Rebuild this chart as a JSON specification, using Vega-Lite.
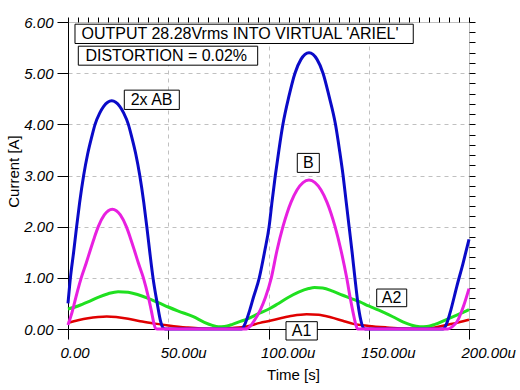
{
  "$schema": "https://vega.github.io/schema/vega-lite/v6.json",
  "width": 401,
  "height": 307,
  "autosize": "none",
  "padding": {"left": 68, "top": 22, "right": 51, "bottom": 61},
  "background": "white",
  "config": {
    "view": {"stroke": "#c0c0c0", "strokeWidth": 1},
    "font": "Liberation Sans"
  },
  "datasets": {
    "currents": [
      {"series": "AB", "t": 0, "current": 0.5},
      {"series": "AB", "t": 1.2, "current": 1.0},
      {"series": "AB", "t": 2.8, "current": 1.5},
      {"series": "AB", "t": 4.3, "current": 2.0},
      {"series": "AB", "t": 5.8, "current": 2.47},
      {"series": "AB", "t": 7.8, "current": 3.0},
      {"series": "AB", "t": 9.8, "current": 3.42},
      {"series": "AB", "t": 11.8, "current": 3.75},
      {"series": "AB", "t": 13.5, "current": 4.0},
      {"series": "AB", "t": 15.8, "current": 4.22},
      {"series": "AB", "t": 17.8, "current": 4.353},
      {"series": "AB", "t": 19.8, "current": 4.433},
      {"series": "AB", "t": 21.8, "current": 4.46},
      {"series": "AB", "t": 23.8, "current": 4.433},
      {"series": "AB", "t": 25.8, "current": 4.353},
      {"series": "AB", "t": 27.8, "current": 4.22},
      {"series": "AB", "t": 30.1, "current": 4.0},
      {"series": "AB", "t": 31.8, "current": 3.75},
      {"series": "AB", "t": 33.8, "current": 3.42},
      {"series": "AB", "t": 35.8, "current": 3.0},
      {"series": "AB", "t": 37.8, "current": 2.47},
      {"series": "AB", "t": 39.3, "current": 2.0},
      {"series": "AB", "t": 40.8, "current": 1.5},
      {"series": "AB", "t": 42.4, "current": 1.0},
      {"series": "AB", "t": 44.5, "current": 0.5},
      {"series": "AB", "t": 46, "current": 0.18},
      {"series": "AB", "t": 47.5, "current": 0.02},
      {"series": "AB", "t": 48.5, "current": 0},
      {"series": "AB", "t": 86.5, "current": 0},
      {"series": "AB", "t": 88.5, "current": 0.12},
      {"series": "AB", "t": 90.5, "current": 0.35},
      {"series": "AB", "t": 92.5, "current": 0.62},
      {"series": "AB", "t": 95.4, "current": 1.0},
      {"series": "AB", "t": 98.0, "current": 1.5},
      {"series": "AB", "t": 100.3, "current": 2.0},
      {"series": "AB", "t": 101.8, "current": 2.5},
      {"series": "AB", "t": 103.4, "current": 3.0},
      {"series": "AB", "t": 105.2, "current": 3.5},
      {"series": "AB", "t": 107.2, "current": 4.0},
      {"series": "AB", "t": 110.2, "current": 4.55},
      {"series": "AB", "t": 113.2, "current": 5.0},
      {"series": "AB", "t": 116.2, "current": 5.27},
      {"series": "AB", "t": 118.2, "current": 5.367},
      {"series": "AB", "t": 120.2, "current": 5.4},
      {"series": "AB", "t": 122.2, "current": 5.367},
      {"series": "AB", "t": 124.2, "current": 5.27},
      {"series": "AB", "t": 127.2, "current": 5.0},
      {"series": "AB", "t": 130.2, "current": 4.55},
      {"series": "AB", "t": 133.4, "current": 4.0},
      {"series": "AB", "t": 135.4, "current": 3.5},
      {"series": "AB", "t": 137.2, "current": 3.0},
      {"series": "AB", "t": 138.7, "current": 2.5},
      {"series": "AB", "t": 140.2, "current": 2.0},
      {"series": "AB", "t": 141.7, "current": 1.5},
      {"series": "AB", "t": 143.1, "current": 1.0},
      {"series": "AB", "t": 144.6, "current": 0.5},
      {"series": "AB", "t": 146, "current": 0.18},
      {"series": "AB", "t": 147.3, "current": 0.02},
      {"series": "AB", "t": 148.3, "current": 0},
      {"series": "AB", "t": 187, "current": 0},
      {"series": "AB", "t": 189, "current": 0.12},
      {"series": "AB", "t": 191, "current": 0.38},
      {"series": "AB", "t": 193.9, "current": 0.83},
      {"series": "AB", "t": 197, "current": 1.28},
      {"series": "AB", "t": 200, "current": 1.75},

      {"series": "B", "t": 0, "current": 0.08},
      {"series": "B", "t": 1.6, "current": 0.27},
      {"series": "B", "t": 3.3, "current": 0.52},
      {"series": "B", "t": 4.8, "current": 0.75},
      {"series": "B", "t": 6.6, "current": 1.0},
      {"series": "B", "t": 9.1, "current": 1.29},
      {"series": "B", "t": 11.1, "current": 1.54},
      {"series": "B", "t": 13.1, "current": 1.78},
      {"series": "B", "t": 15.1, "current": 2.0},
      {"series": "B", "t": 18.1, "current": 2.229},
      {"series": "B", "t": 20.1, "current": 2.312},
      {"series": "B", "t": 22.1, "current": 2.34},
      {"series": "B", "t": 24.1, "current": 2.312},
      {"series": "B", "t": 26.1, "current": 2.229},
      {"series": "B", "t": 29.1, "current": 2.0},
      {"series": "B", "t": 31.1, "current": 1.78},
      {"series": "B", "t": 33.1, "current": 1.54},
      {"series": "B", "t": 35.1, "current": 1.29},
      {"series": "B", "t": 37.6, "current": 1.0},
      {"series": "B", "t": 40.1, "current": 0.62},
      {"series": "B", "t": 41.6, "current": 0.35},
      {"series": "B", "t": 42.9, "current": 0.1},
      {"series": "B", "t": 43.7, "current": 0.01},
      {"series": "B", "t": 44.5, "current": 0},
      {"series": "B", "t": 89, "current": 0},
      {"series": "B", "t": 91, "current": 0.06},
      {"series": "B", "t": 93, "current": 0.17},
      {"series": "B", "t": 96, "current": 0.38},
      {"series": "B", "t": 98.5, "current": 0.62},
      {"series": "B", "t": 101.4, "current": 1.0},
      {"series": "B", "t": 104.2, "current": 1.53},
      {"series": "B", "t": 107.2, "current": 2.0},
      {"series": "B", "t": 109.2, "current": 2.259},
      {"series": "B", "t": 111.2, "current": 2.474},
      {"series": "B", "t": 114.2, "current": 2.716},
      {"series": "B", "t": 117.2, "current": 2.862},
      {"series": "B", "t": 120.2, "current": 2.91},
      {"series": "B", "t": 123.2, "current": 2.862},
      {"series": "B", "t": 126.2, "current": 2.716},
      {"series": "B", "t": 129.2, "current": 2.474},
      {"series": "B", "t": 131.2, "current": 2.259},
      {"series": "B", "t": 133.2, "current": 2.0},
      {"series": "B", "t": 136.2, "current": 1.53},
      {"series": "B", "t": 139, "current": 1.0},
      {"series": "B", "t": 140.8, "current": 0.6},
      {"series": "B", "t": 142.3, "current": 0.3},
      {"series": "B", "t": 143.6, "current": 0.08},
      {"series": "B", "t": 144.5, "current": 0},
      {"series": "B", "t": 189.5, "current": 0},
      {"series": "B", "t": 191.5, "current": 0.04},
      {"series": "B", "t": 194, "current": 0.14},
      {"series": "B", "t": 197.2, "current": 0.44},
      {"series": "B", "t": 200, "current": 0.79},

      {"series": "A2", "t": 0, "current": 0.39},
      {"series": "A2", "t": 5, "current": 0.45},
      {"series": "A2", "t": 10, "current": 0.53},
      {"series": "A2", "t": 15, "current": 0.62},
      {"series": "A2", "t": 20, "current": 0.69},
      {"series": "A2", "t": 25, "current": 0.73},
      {"series": "A2", "t": 30, "current": 0.72},
      {"series": "A2", "t": 35, "current": 0.67},
      {"series": "A2", "t": 40, "current": 0.6},
      {"series": "A2", "t": 46, "current": 0.5},
      {"series": "A2", "t": 50, "current": 0.43},
      {"series": "A2", "t": 55, "current": 0.35},
      {"series": "A2", "t": 62.5, "current": 0.24},
      {"series": "A2", "t": 68, "current": 0.13},
      {"series": "A2", "t": 72, "current": 0.07},
      {"series": "A2", "t": 75, "current": 0.045},
      {"series": "A2", "t": 78, "current": 0.05},
      {"series": "A2", "t": 82, "current": 0.09},
      {"series": "A2", "t": 86, "current": 0.15},
      {"series": "A2", "t": 89, "current": 0.19},
      {"series": "A2", "t": 95, "current": 0.3},
      {"series": "A2", "t": 100.7, "current": 0.4},
      {"series": "A2", "t": 105, "current": 0.5},
      {"series": "A2", "t": 110, "current": 0.62},
      {"series": "A2", "t": 115, "current": 0.72},
      {"series": "A2", "t": 120, "current": 0.79},
      {"series": "A2", "t": 123, "current": 0.81},
      {"series": "A2", "t": 127, "current": 0.8},
      {"series": "A2", "t": 132, "current": 0.74},
      {"series": "A2", "t": 137, "current": 0.66},
      {"series": "A2", "t": 141, "current": 0.6},
      {"series": "A2", "t": 145.6, "current": 0.53},
      {"series": "A2", "t": 150, "current": 0.45},
      {"series": "A2", "t": 155, "current": 0.37},
      {"series": "A2", "t": 162, "current": 0.24},
      {"series": "A2", "t": 167, "current": 0.14},
      {"series": "A2", "t": 171, "current": 0.08},
      {"series": "A2", "t": 175.5, "current": 0.045},
      {"series": "A2", "t": 179, "current": 0.05},
      {"series": "A2", "t": 183, "current": 0.09},
      {"series": "A2", "t": 189, "current": 0.19},
      {"series": "A2", "t": 195, "current": 0.29},
      {"series": "A2", "t": 200, "current": 0.38},

      {"series": "A1", "t": 0, "current": 0.12},
      {"series": "A1", "t": 5, "current": 0.17},
      {"series": "A1", "t": 10, "current": 0.21},
      {"series": "A1", "t": 15, "current": 0.235},
      {"series": "A1", "t": 19.3, "current": 0.245},
      {"series": "A1", "t": 24, "current": 0.235},
      {"series": "A1", "t": 30, "current": 0.2},
      {"series": "A1", "t": 36, "current": 0.15},
      {"series": "A1", "t": 42.5, "current": 0.11},
      {"series": "A1", "t": 50, "current": 0.07},
      {"series": "A1", "t": 59, "current": 0.03},
      {"series": "A1", "t": 66, "current": 0.01},
      {"series": "A1", "t": 75, "current": 0.005},
      {"series": "A1", "t": 82, "current": 0.02},
      {"series": "A1", "t": 89, "current": 0.05},
      {"series": "A1", "t": 95.8, "current": 0.12},
      {"series": "A1", "t": 100.7, "current": 0.16},
      {"series": "A1", "t": 106, "current": 0.21},
      {"series": "A1", "t": 112, "current": 0.26},
      {"series": "A1", "t": 119, "current": 0.29},
      {"series": "A1", "t": 125, "current": 0.28},
      {"series": "A1", "t": 131, "current": 0.23},
      {"series": "A1", "t": 137, "current": 0.16},
      {"series": "A1", "t": 142.3, "current": 0.1},
      {"series": "A1", "t": 150, "current": 0.06},
      {"series": "A1", "t": 159, "current": 0.03},
      {"series": "A1", "t": 167, "current": 0.01},
      {"series": "A1", "t": 175, "current": 0.005},
      {"series": "A1", "t": 183, "current": 0.03},
      {"series": "A1", "t": 189, "current": 0.08},
      {"series": "A1", "t": 195, "current": 0.13},
      {"series": "A1", "t": 200, "current": 0.18}
    ],
    "notes": [
      {"label": "OUTPUT 28.28Vrms INTO VIRTUAL 'ARIEL'", "x1": 3.49, "x2": 172.2, "y1": 5.957, "y2": 5.58, "tx": 85.8, "ty": 5.768},
      {"label": "DISTORTION = 0.02%", "x1": 5.14, "x2": 94.6, "y1": 5.527, "y2": 5.156, "tx": 49.0, "ty": 5.342},
      {"label": "2x AB", "x1": 28.08, "x2": 55.51, "y1": 4.668, "y2": 4.291, "tx": 41.7, "ty": 4.479},
      {"label": "B", "x1": 114.36, "x2": 125.34, "y1": 3.432, "y2": 3.061, "tx": 119.9, "ty": 3.246},
      {"label": "A2", "x1": 153.97, "x2": 168.93, "y1": 0.781, "y2": 0.436, "tx": 161.4, "ty": 0.609},
      {"label": "A1", "x1": 108.73, "x2": 124.34, "y1": 0.143, "y2": -0.215, "tx": 116.5, "ty": -0.036}
    ]
  },
  "layer": [
    {
      "data": {"name": "currents"},
      "transform": [{"filter": "datum.series == 'A1'"}],
      "mark": {"type": "line", "color": "#e00000", "strokeWidth": 2.5, "interpolate": "monotone", "clip": false},
      "encoding": {
        "x": {
          "field": "t", "type": "quantitative",
          "scale": {"domain": [0, 200], "nice": false, "zero": false},
          "axis": {
            "values": [0, 50, 100, 150, 200],
            "labelExpr": "datum.value == 0 ? '0.00' : format(datum.value, '.2f') + 'u'",
            "labelFont": "Liberation Sans", "labelFontStyle": "italic", "labelFontSize": 15, "labelColor": "#000",
            "labelAlign": "left", "labelOffset": -8, "labelBaseline": "alphabetic", "labelPadding": 18,
            "labelFlush": false, "labelOverlap": false,
            "tickSize": 10, "tickColor": "#000", "domainColor": "#000",
            "grid": true, "gridColor": "#c0c0c0", "gridDash": [4, 4],
            "title": "Time [s]", "titleFont": "Liberation Sans", "titleFontSize": 15, "titleFontWeight": "normal", "titleColor": "#000",
            "titleX": 225, "titleY": 50, "titleBaseline": "alphabetic", "titleAlign": "center"
          }
        },
        "y": {
          "field": "current", "type": "quantitative",
          "scale": {"domain": [0, 6], "nice": false},
          "axis": {
            "values": [0, 1, 2, 3, 4, 5, 6],
            "format": ".2f",
            "labelFont": "Liberation Sans", "labelFontStyle": "italic", "labelFontSize": 15, "labelColor": "#000",
            "labelPadding": 4, "labelFlush": false, "labelOverlap": false,
            "tickSize": 11, "tickColor": "#000", "domainColor": "#000",
            "grid": true, "gridColor": "#c0c0c0", "gridDash": [4, 4],
            "title": "Current [A]", "titleFont": "Liberation Sans", "titleFontSize": 15, "titleFontWeight": "normal", "titleColor": "#000",
            "titleX": -50, "titleY": 149, "titleAngle": -90, "titleBaseline": "alphabetic", "titleAlign": "center"
          }
        }
      }
    },
    {
      "data": {"name": "currents"},
      "transform": [{"filter": "datum.series == 'A2'"}],
      "mark": {"type": "line", "color": "#20e020", "strokeWidth": 3, "interpolate": "monotone", "clip": false},
      "encoding": {
        "x": {"field": "t", "type": "quantitative", "scale": {"domain": [0, 200], "nice": false, "zero": false}, "axis": null},
        "y": {"field": "current", "type": "quantitative", "scale": {"domain": [0, 6], "nice": false}, "axis": null}
      }
    },
    {
      "data": {"name": "currents"},
      "transform": [{"filter": "datum.series == 'AB'"}],
      "mark": {"type": "line", "color": "#0a0ac8", "strokeWidth": 3, "interpolate": "monotone", "clip": false},
      "encoding": {
        "x": {"field": "t", "type": "quantitative", "scale": {"domain": [0, 200], "nice": false, "zero": false}, "axis": null},
        "y": {"field": "current", "type": "quantitative", "scale": {"domain": [0, 6], "nice": false}, "axis": null}
      }
    },
    {
      "data": {"name": "currents"},
      "transform": [{"filter": "datum.series == 'B'"}],
      "mark": {"type": "line", "color": "#e820e0", "strokeWidth": 3, "interpolate": "monotone", "clip": false},
      "encoding": {
        "x": {"field": "t", "type": "quantitative", "scale": {"domain": [0, 200], "nice": false, "zero": false}, "axis": null},
        "y": {"field": "current", "type": "quantitative", "scale": {"domain": [0, 6], "nice": false}, "axis": null}
      }
    },
    {
      "data": {"name": "notes"},
      "mark": {"type": "rect", "fill": "white", "stroke": "black", "strokeWidth": 1, "clip": false},
      "encoding": {
        "x": {
          "field": "x1", "type": "quantitative",
          "scale": {"domain": [0, 200], "nice": false, "zero": false},
          "axis": {
            "values": [0, 5, 10, 15, 20, 25, 30, 35, 40, 45, 50, 55, 60, 65, 70, 75, 80, 85, 90, 95, 100, 105, 110, 115, 120, 125, 130, 135, 140, 145, 150, 155, 160, 165, 170, 175, 180, 185, 190, 195, 200],
            "tickSize": 5, "tickColor": "#000", "labels": false, "domain": false, "grid": false, "title": null
          }
        },
        "x2": {"field": "x2"},
        "y": {
          "field": "y1", "type": "quantitative",
          "scale": {"domain": [0, 6], "nice": false},
          "axis": {
            "values": [0, 0.2, 0.4, 0.6, 0.8, 1, 1.2, 1.4, 1.6, 1.8, 2, 2.2, 2.4, 2.6, 2.8, 3, 3.2, 3.4, 3.6, 3.8, 4, 4.2, 4.4, 4.6, 4.8, 5, 5.2, 5.4, 5.6, 5.8, 6],
            "tickSize": 6, "tickColor": "#000", "labels": false, "domain": false, "grid": false, "title": null
          }
        },
        "y2": {"field": "y2"}
      }
    },
    {
      "data": {"name": "notes"},
      "mark": {"type": "text", "font": "Liberation Sans", "fontSize": 16, "color": "#000", "align": "center", "baseline": "middle", "clip": false},
      "encoding": {
        "x": {"field": "tx", "type": "quantitative", "scale": {"domain": [0, 200], "nice": false, "zero": false}, "axis": null},
        "y": {"field": "ty", "type": "quantitative", "scale": {"domain": [0, 6], "nice": false}, "axis": null},
        "text": {"field": "label", "type": "nominal"}
      }
    }
  ],
  "resolve": {"axis": {"x": "independent", "y": "independent"}}
}
